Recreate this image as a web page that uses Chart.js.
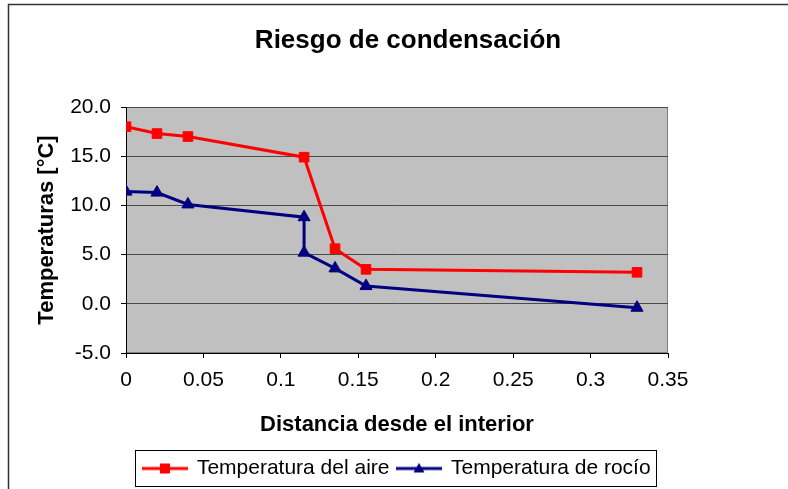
<!DOCTYPE html>
<html>
<head>
<meta charset="utf-8">
<script src="https://cdn.jsdelivr.net/npm/chart.js@4.4.1/dist/chart.umd.min.js"></script>
<style>
  html, body { margin: 0; padding: 0; background: #fff; }
  canvas { display: block; }
</style>
</head>
<body>
<canvas id="chart" width="788" height="489"></canvas>
<script>
// distancia desde el interior (m)
var distAire = [0, 0.02, 0.04, 0.115, 0.135, 0.155, 0.33];
var tempAire = [18.0, 17.3, 17.0, 14.9, 5.6, 3.5, 3.2];

var distRocio = [0, 0.02, 0.04, 0.115, 0.115, 0.135, 0.155, 0.33];
var tempRocio = [11.4, 11.3, 10.1, 8.8, 5.2, 3.6, 1.8, -0.4];

var yTicks = [-5, 0, 5, 10, 15, 20];
var xTicks = [0, 0.05, 0.1, 0.15, 0.2, 0.25, 0.3, 0.35];

var FONT = "'Liberation Sans', Arial, sans-serif";

function toPoints(xs, ys) {
  return xs.map(function(x, i) { return { x: x, y: ys[i] }; });
}

// little legend icons: line with the marker in the middle
function legendIcon(color, shape) {
  var c = document.createElement('canvas');
  c.width = 46; c.height = 14;
  var g = c.getContext('2d');
  g.strokeStyle = color;
  g.fillStyle = color;
  g.lineWidth = 3;
  g.beginPath();
  g.moveTo(0, 7); g.lineTo(46, 7);
  g.stroke();
  if (shape === 'rect') {
    g.fillRect(18, 2, 10, 10);
  } else {
    g.beginPath();
    g.moveTo(23, 1.5); g.lineTo(28.5, 11); g.lineTo(17.5, 11);
    g.closePath(); g.fill();
  }
  return c;
}
var icons = [legendIcon('#ff0000', 'rect'), legendIcon('#000080', 'tri')];

var decor = {
  id: 'decor',
  beforeDraw: function(chart) {
    var ctx = chart.ctx, a = chart.chartArea;
    ctx.save();
    ctx.fillStyle = '#c0c0c0';
    ctx.fillRect(a.left, a.top, a.right - a.left, a.bottom - a.top);
    ctx.strokeStyle = '#808080';
    ctx.lineWidth = 1;
    ctx.strokeRect(a.left + 0.5, a.top + 0.5, a.right - a.left - 1, a.bottom - a.top - 1);
    ctx.restore();
  },
  afterDraw: function(chart) {
    var ctx = chart.ctx;
    ctx.save();
    // outer frame (only top and left edges fall inside the picture)
    ctx.strokeStyle = '#333';
    ctx.lineWidth = 1.5;
    ctx.beginPath();
    ctx.moveTo(8.5, 489); ctx.lineTo(8.5, 4.5); ctx.lineTo(788, 4.5);
    ctx.stroke();
    // legend box
    var hb = chart.legend.legendHitBoxes;
    if (hb && hb.length) {
      var l = Math.min.apply(null, hb.map(function(h) { return h.left; }));
      var r = Math.max.apply(null, hb.map(function(h) { return h.left + h.width; }));
      var t = Math.min.apply(null, hb.map(function(h) { return h.top; }));
      var b = Math.max.apply(null, hb.map(function(h) { return h.top + h.height; }));
      ctx.strokeStyle = '#000';
      ctx.lineWidth = 1;
      ctx.strokeRect(Math.round(l - 8) + 0.5, Math.round(t - 8) + 0.5, Math.round(r - l + 14), Math.round(b - t + 15));
    }
    ctx.restore();
  }
};

new Chart(document.getElementById('chart').getContext('2d'), {
  type: 'line',
  data: {
    datasets: [
      {
        label: 'Temperatura del aire',
        data: toPoints(distAire, tempAire),
        borderColor: '#ff0000',
        backgroundColor: '#ff0000',
        borderWidth: 3,
        pointStyle: 'rect',
        pointRadius: 6.8,
        pointBorderWidth: 1,
        pointHoverRadius: 6.8,
        tension: 0
      },
      {
        label: 'Temperatura de rocío',
        data: toPoints(distRocio, tempRocio),
        borderColor: '#000080',
        backgroundColor: '#000080',
        borderWidth: 3,
        pointStyle: 'triangle',
        pointRadius: 7,
        pointBorderWidth: 1,
        pointHoverRadius: 7,
        tension: 0
      }
    ]
  },
  options: {
    responsive: false,
    animation: false,
    devicePixelRatio: 1,
    layout: { padding: { left: 28, right: 0, top: 0, bottom: 0 } },
    plugins: {
      tooltip: { enabled: false },
      title: {
        display: true,
        text: 'Riesgo de condensación',
        color: '#000',
        font: { family: FONT, size: 26, weight: 'bold', lineHeight: 1.2 },
        padding: { top: 25, bottom: 50.8 }
      },
      legend: {
        position: 'bottom',
        fullSize: false,
        labels: {
          color: '#000',
          font: { family: FONT, size: 21 },
          usePointStyle: true,
          pointStyleWidth: 43,
          padding: 8,
          generateLabels: function(chart) {
            var items = Chart.defaults.plugins.legend.labels.generateLabels(chart);
            items.forEach(function(it, i) { it.pointStyle = icons[i]; });
            return items;
          }
        }
      }
    },
    scales: {
      x: {
        type: 'linear',
        min: 0,
        max: 0.35,
        afterBuildTicks: function(s) { s.ticks = xTicks.map(function(v) { return { value: v }; }); },
        afterFit: function(s) { s.height = 97; },
        ticks: {
          color: '#000',
          font: { family: FONT, size: 21 },
          padding: 10,
          maxRotation: 0,
          callback: function(v) { return String(+v.toFixed(2)); }
        },
        grid: { drawOnChartArea: false, drawTicks: true, tickLength: 5, tickColor: '#000' },
        border: { color: '#000', width: 1 },
        title: {
          display: true,
          text: 'Distancia desde el interior',
          color: '#000',
          font: { family: FONT, size: 22, weight: 'bold', lineHeight: 1.2 },
          padding: { top: 0, bottom: 12 }
        }
      },
      y: {
        min: -5,
        max: 20,
        afterBuildTicks: function(s) { s.ticks = yTicks.map(function(v) { return { value: v }; }); },
        afterFit: function(s) { s.width = 98; },
        ticks: {
          color: '#000',
          font: { family: FONT, size: 21 },
          padding: 10,
          callback: function(v) { return v.toFixed(1); }
        },
        grid: { color: '#4a4a4a', lineWidth: 1, drawTicks: true, tickLength: 5, tickColor: '#000' },
        border: { color: '#000', width: 1 },
        title: {
          display: true,
          text: 'Temperaturas [°C]',
          color: '#000',
          font: { family: FONT, size: 22, weight: 'bold', lineHeight: 1.2 },
          padding: { top: 6, bottom: 0 }
        }
      },
      yRight: {
        position: 'right',
        display: true,
        min: -5,
        max: 20,
        afterFit: function(s) { s.width = 120; },
        ticks: { display: false },
        grid: { display: false, drawTicks: false },
        border: { display: false }
      }
    }
  },
  plugins: [decor]
});
</script>
</body>
</html>
